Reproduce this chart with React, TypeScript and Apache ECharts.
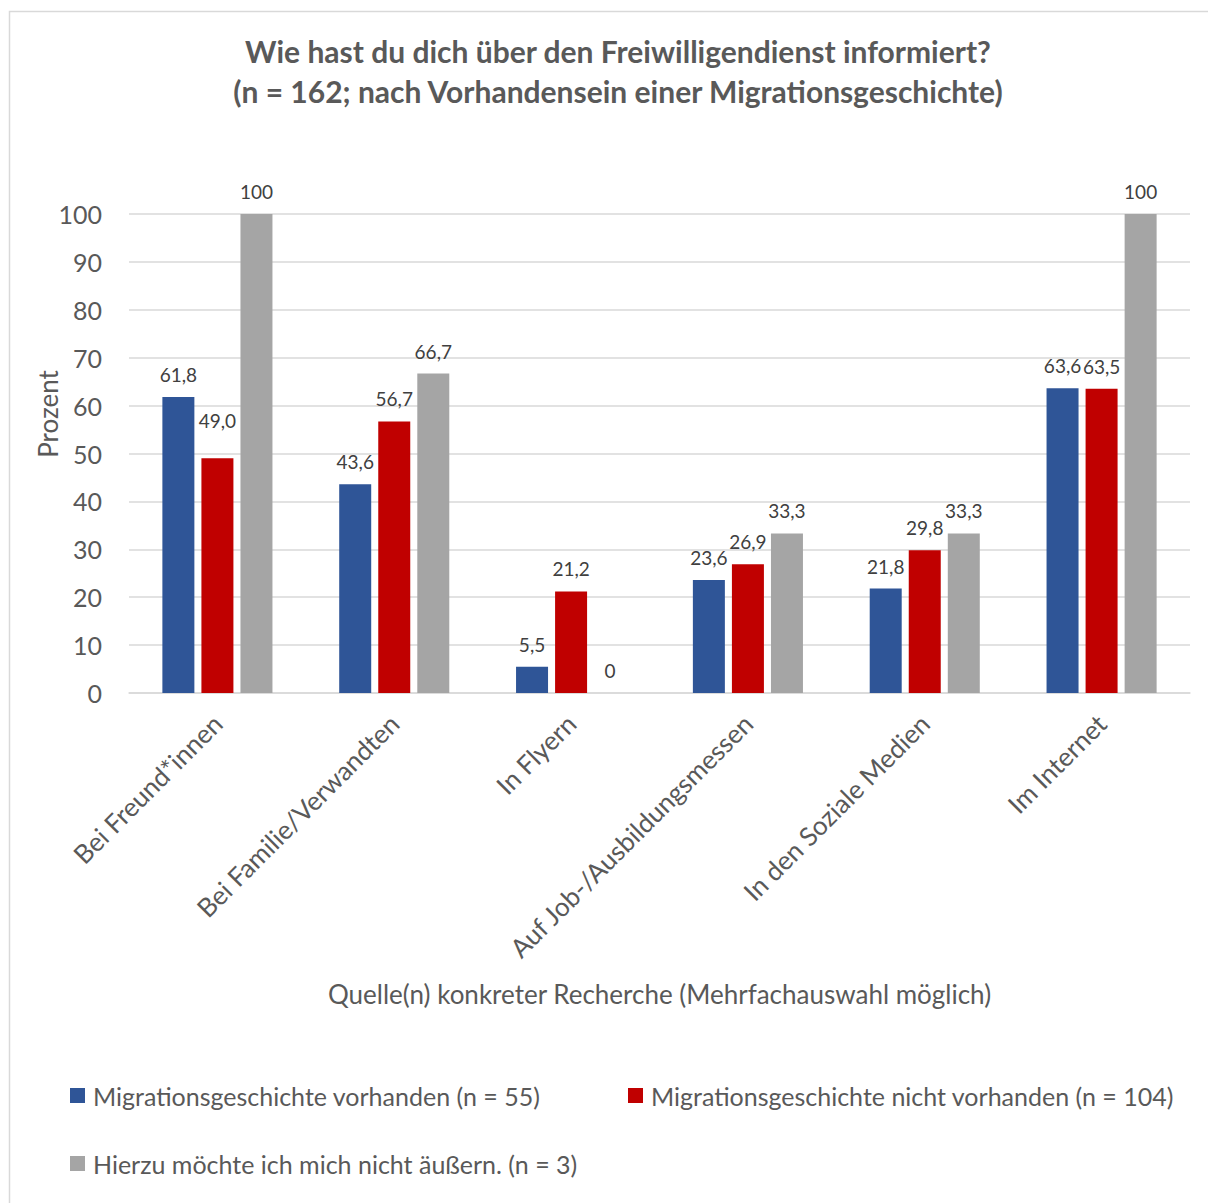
import React, { useEffect, useRef } from "react";
import * as echarts from "echarts";

const categories = [
  "Bei Freund*innen",
  "Bei Familie/Verwandten",
  "In Flyern",
  "Auf Job-/Ausbildungsmessen",
  "In den Soziale Medien",
  "Im Internet",
];
const seriesNames = [
  "Migrationsgeschichte vorhanden (n = 55)",
  "Migrationsgeschichte nicht vorhanden (n = 104)",
  "Hierzu möchte ich mich nicht äußern. (n = 3)",
];
const withMigration = [61.8, 43.6, 5.5, 23.6, 21.8, 63.6];
const withoutMigration = [49.0, 56.7, 21.2, 26.9, 29.8, 63.5];
const noAnswer = [100, 66.7, 0, 33.3, 33.3, 100];
const yTicks = { min: 0, max: 100, interval: 10 };
const titleLines = [
  "Wie hast du dich über den Freiwilligendienst informiert?",
  "(n = 162; nach Vorhandensein einer Migrationsgeschichte)",
];
const yName = "Prozent";
const xName = "Quelle(n) konkreter Recherche (Mehrfachauswahl möglich)";

const colors = ["#2F5597", "#C00000", "#A5A5A5"];
const FONT = "Lato";

const fmtDec = (v: number) => v.toFixed(1).replace(".", ",");
const fmtAuto = (v: number) => (Number.isInteger(v) ? String(v) : fmtDec(v));

export default function App() {
  const ref = useRef<HTMLDivElement>(null);
  useEffect(() => {
    document.body.style.margin = "0";
    if (!ref.current) return;
    const chart = echarts.init(ref.current, undefined, { renderer: "svg" });
    const labelBase = {
      show: true,
      position: "top" as const,
      distance: 13,
      fontFamily: FONT,
      fontSize: 19,
      color: "#404040",
    };
    const mkData = (arr: number[], si: number) =>
      arr.map((v, i) => {
        if (si === 1 && i === 0) {
          return { value: v, label: { offset: [0, -15] } };
        }
        return v;
      });
    const datasets = [withMigration, withoutMigration, noAnswer];
    chart.setOption({
      animation: false,
      textStyle: { fontFamily: FONT },
      title: {
        text: titleLines.join("\n"),
        left: 613,
        top: 26,
        textAlign: "center",
        textStyle: {
          fontFamily: FONT,
          fontSize: 30,
          fontWeight: "bold",
          color: "#595959",
          lineHeight: 40,
        },
      },
      graphic: [
        {
          type: "rect",
          shape: { x: 9.5, y: 11.5, width: 1300, height: 1300 },
          style: { fill: "none", stroke: "#D9D9D9", lineWidth: 1.5 },
          silent: true,
        },
        {
          type: "text",
          x: 48,
          y: 414,
          rotation: Math.PI / 2,
          style: {
            text: yName,
            fontFamily: FONT,
            fontSize: 26,
            fill: "#595959",
            align: "center",
            verticalAlign: "middle",
          },
        },
      ],
      legend: seriesNames.map((n, i) => ({
        data: [n],
        left: i === 1 ? 623 : 65,
        top: i === 2 ? 1146 : 1078,
        itemWidth: 15,
        itemHeight: 15,
        icon: "rect",
        itemGap: 8,
        textStyle: { fontFamily: FONT, fontSize: 25, color: "#595959", padding: [0, 0, 0, 3] },
      })),
      grid: { left: 129, right: 18, top: 214, bottom: 510, containLabel: false },
      xAxis: {
        type: "category",
        data: categories,
        name: xName,
        nameLocation: "middle",
        nameGap: 288,
        nameTextStyle: { fontFamily: FONT, fontSize: 26, color: "#595959" },
        axisTick: { show: false },
        axisLine: { lineStyle: { color: "#D9D9D9", width: 1.5 } },
        axisLabel: {
          rotate: 45,
          interval: 0,
          margin: 26,
          fontFamily: FONT,
          fontSize: 26,
          color: "#595959",
        },
      },
      yAxis: {
        type: "value",
        min: yTicks.min,
        max: yTicks.max,
        interval: yTicks.interval,
        axisLine: { show: false },
        axisTick: { show: false },
        splitLine: { lineStyle: { color: "#D9D9D9", width: 1.5 } },
        axisLabel: { fontFamily: FONT, fontSize: 25, color: "#595959", margin: 27 },
      },
      series: datasets.map((arr, si) => ({
        name: seriesNames[si],
        type: "bar",
        data: mkData(arr, si),
        barWidth: 32,
        barGap: "22%",
        itemStyle: { color: colors[si] },
        label: {
          ...labelBase,
          formatter: (p: any) => (si === 2 ? fmtAuto(p.value) : fmtDec(p.value)),
        },
      })),
    });
    return () => chart.dispose();
  }, []);
  return <div ref={ref} style={{ width: 1208, height: 1203 }} />;
}
